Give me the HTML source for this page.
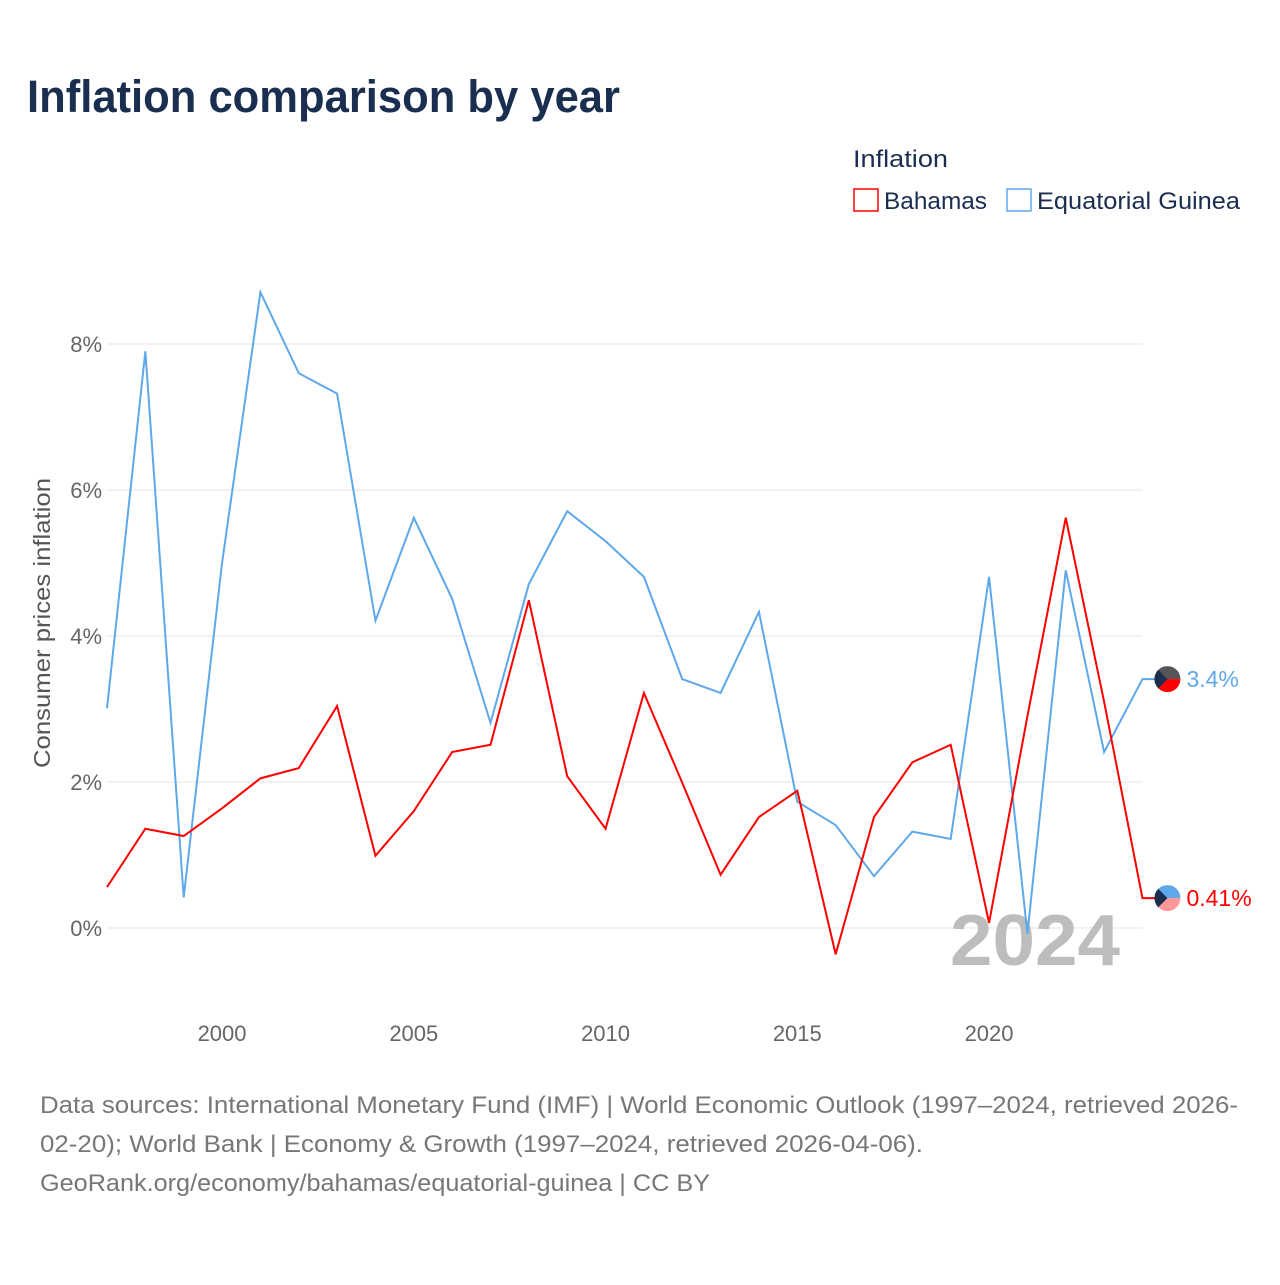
<!DOCTYPE html>
<html><head><meta charset="utf-8"><style>
body{margin:0;background:#fff;font-family:"Liberation Sans",sans-serif}
</style></head><body>
<svg width="1280" height="1280" xmlns="http://www.w3.org/2000/svg" font-family="Liberation Sans, sans-serif">
<text x="27" y="112" font-size="45" font-weight="bold" fill="#1a2e4f" textLength="593" lengthAdjust="spacingAndGlyphs">Inflation comparison by year</text>
<text x="853" y="167" font-size="24" fill="#1a2e4f" textLength="95" lengthAdjust="spacingAndGlyphs">Inflation</text>
<g><rect x="854" y="189" width="24" height="22" fill="none" stroke="#f00" stroke-width="1.5"/><text x="884" y="209" font-size="24" fill="#1a2e4f" textLength="103" lengthAdjust="spacingAndGlyphs">Bahamas</text></g>
<g><rect x="1007" y="189" width="24" height="22" fill="none" stroke="#5ea8ea" stroke-width="1.5"/><text x="1037" y="209" font-size="24" fill="#1a2e4f" textLength="203" lengthAdjust="spacingAndGlyphs">Equatorial Guinea</text></g>
<text transform="translate(50,623) rotate(-90)" text-anchor="middle" font-size="23" fill="#555" textLength="290" lengthAdjust="spacingAndGlyphs">Consumer prices inflation</text>
<g id="grid"></g><g id="xt"></g>
<text x="950" y="965" font-size="72" font-weight="bold" fill="#bdbdbd" textLength="170" lengthAdjust="spacingAndGlyphs">2024</text>
<g id="lines"></g>
<text x="40" y="1113" font-size="24" fill="#777" textLength="1198" lengthAdjust="spacingAndGlyphs">Data sources: International Monetary Fund (IMF) | World Economic Outlook (1997–2024, retrieved 2026-</text>
<text x="40" y="1152" font-size="24" fill="#777" textLength="883" lengthAdjust="spacingAndGlyphs">02-20); World Bank | Economy &amp; Growth (1997–2024, retrieved 2026-04-06).</text>
<text x="40" y="1191" font-size="24" fill="#777" textLength="670" lengthAdjust="spacingAndGlyphs">GeoRank.org/economy/bahamas/equatorial-guinea | CC BY</text>
</svg>
<script>
const years=[1997,1998,1999,2000,2001,2002,2003,2004,2005,2006,2007,2008,2009,2010,2011,2012,2013,2014,2015,2016,2017,2018,2019,2020,2021,2022,2023,2024];
const bahamas=[0.56,1.36,1.26,1.64,2.05,2.19,3.04,0.99,1.60,2.41,2.51,4.49,2.08,1.36,3.22,1.99,0.73,1.52,1.88,-0.36,1.52,2.27,2.51,0.07,2.9,5.62,3.1,0.41];
const eqGuinea=[3.01,7.90,0.42,5.0,8.71,7.60,7.32,4.21,5.62,4.51,2.81,4.71,5.71,5.30,4.81,3.41,3.22,4.33,1.73,1.41,0.71,1.32,1.22,4.81,-0.08,4.90,2.41,3.41];
const yTicks=[0,2,4,6,8];
const xTicks=[2000,2005,2010,2015,2020];
const NS="http://www.w3.org/2000/svg";
const X=y=>107+(y-1997)*38.35;
const Y=v=>928-v*73;
const grid=document.getElementById('grid'),xt=document.getElementById('xt'),lines=document.getElementById('lines');
yTicks.forEach(t=>{
 const l=document.createElementNS(NS,'line');
 l.setAttribute('x1',107);l.setAttribute('x2',1142);l.setAttribute('y1',Y(t));l.setAttribute('y2',Y(t));
 l.setAttribute('stroke','#e6e6e6');
 
 
 grid.appendChild(l);
 const tx=document.createElementNS(NS,'text');
 tx.setAttribute('x',102);tx.setAttribute('y',Y(t)+8);tx.setAttribute('text-anchor','end');tx.setAttribute('font-size','22');tx.setAttribute('fill','#666');
 tx.textContent=t+'%';
 
 
 grid.appendChild(tx);
});
xTicks.forEach(t=>{
 const tx=document.createElementNS(NS,'text');
 tx.setAttribute('x',X(t));tx.setAttribute('y',1041);tx.setAttribute('text-anchor','middle');tx.setAttribute('font-size','22');tx.setAttribute('fill','#666');
 tx.textContent=t;
 
 
 xt.appendChild(tx);
});
function series(vals,color,name,label,c1,c2){
 const last=vals[vals.length-1];
 const pts=vals.map((v,i)=>X(years[i])+','+Y(v)).join(' ')+' '+(X(2024)+22)+','+Y(last);
 const p=document.createElementNS(NS,'polyline');
 p.setAttribute('points',pts);p.setAttribute('fill','none');p.setAttribute('stroke',color);p.setAttribute('stroke-width','2');
 
 
 lines.appendChild(p);
 const cx=X(2024)+25,cy=Y(last);
 const g=document.createElementNS(NS,'g');
 
 
 g.innerHTML=`<clipPath id="c${name}"><circle cx="${cx}" cy="${cy}" r="13"/></clipPath><g clip-path="url(#c${name})"><rect x="${cx-13}" y="${cy-13}" width="26" height="13" fill="${c1}"/><rect x="${cx-13}" y="${cy}" width="26" height="13" fill="${c2}"/><polygon points="${cx-13},${cy-13} ${cx},${cy} ${cx-13},${cy+13}" fill="#1a2e4f"/></g>`;
 lines.appendChild(g);
 const t=document.createElementNS(NS,'text');
 t.setAttribute('x',cx+19);t.setAttribute('y',cy+8);t.setAttribute('font-size','23');t.setAttribute('fill',color);
 t.textContent=label;
 
 
 lines.appendChild(t);
}
series(eqGuinea,'#5ea8ea','equatorial-guinea',eqGuinea[eqGuinea.length-1].toFixed(1)+'%','#555','#f00');
series(bahamas,'#f00','bahamas',bahamas[bahamas.length-1].toFixed(2)+'%','#5ea8ea','#f99');
</script>
</body></html>
